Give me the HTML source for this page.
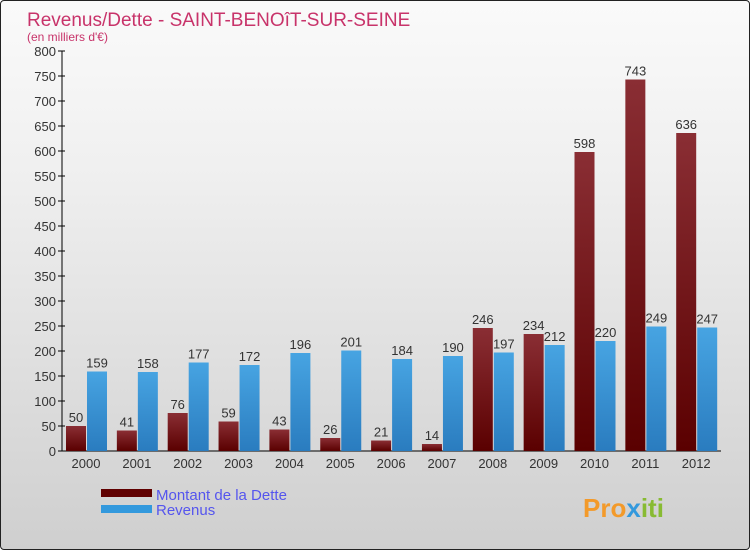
<!DOCTYPE html>
<html><head><meta charset="utf-8"><style>
body{margin:0;}
#wrap{position:relative;width:748px;height:548px;border:1px solid #222;border-radius:4px;background:linear-gradient(#fafafa,#f0f0f0 30%,#cfcfcf);overflow:hidden;font-family:"Liberation Sans",sans-serif;}
</style></head><body>
<div id="wrap">
<svg id="chart" width="748" height="548">
<defs>
<linearGradient id="gd" x1="0" y1="0" x2="0" y2="1"><stop offset="0" stop-color="#8a2e34"/><stop offset="1" stop-color="#5a0000"/></linearGradient>
<linearGradient id="gr" x1="0" y1="0" x2="0" y2="1"><stop offset="0" stop-color="#47a4e2"/><stop offset="1" stop-color="#2a7cbf"/></linearGradient>
</defs>
<text x="26" y="25" font-size="19" fill="#c8336a">Revenus/Dette - SAINT-BENOîT-SUR-SEINE</text>
<text x="26" y="40" font-size="12" fill="#c8336a">(en milliers d'€)</text>
<g id="axes"></g><g id="bars"></g>
<rect x="100" y="488" width="51" height="8" fill="#600000"/>
<rect x="100" y="504" width="51" height="8" fill="#3399dd"/>
<text x="155" y="499" font-size="15" fill="#5555ee">Montant de la Dette</text>
<text x="155" y="514" font-size="15" fill="#5555ee">Revenus</text>
<text x="582" y="516" font-size="26" font-weight="bold" fill="#f39a2a">Pro<tspan fill="#3399dd">x</tspan><tspan fill="#88bb33">iti</tspan></text>
</svg></div>
<script>
const years=["2000","2001","2002","2003","2004","2005","2006","2007","2008","2009","2010","2011","2012"];
const debt=[50,41,76,59,43,26,21,14,246,234,598,743,636];
const revenue=[159,158,177,172,196,201,184,190,197,212,220,249,247];
const yTicks=[0,50,100,150,200,250,300,350,400,450,500,550,600,650,700,750,800];
const NS="http://www.w3.org/2000/svg";
const y=v=>450-v*0.5, gx=i=>64+i*50.85;
function mk(t,a,p){const e=document.createElementNS(NS,t);for(const k in a)e.setAttribute(k,a[k]);p.appendChild(e);return e;}
const ax=document.getElementById('axes'),bs=document.getElementById('bars');
const yl=mk('line',{x1:61,y1:50,x2:61,y2:450,stroke:'#000'},ax);


const xl=mk('line',{x1:61,y1:450,x2:720,y2:450,stroke:'#000'},ax);


yTicks.forEach(v=>{
 mk('line',{x1:57,x2:64,y1:y(v),y2:y(v),stroke:'#000'},ax);
 const t=mk('text',{x:55,y:y(v)+5,'font-size':13,fill:'#333','text-anchor':'end'},ax);t.textContent=v;
 
 
});
years.forEach((yr,i)=>{
 const x=gx(i);
 const t=mk('text',{x:x+21,y:467,'font-size':13,fill:'#333','text-anchor':'middle'},ax);t.textContent=yr;
 
 
 const b1=mk('rect',{x:x+1,y:y(debt[i]),width:20,height:debt[i]*0.5,fill:'url(#gd)'},bs);
 
 
 const b2=mk('rect',{x:x+22,y:y(revenue[i]),width:20,height:revenue[i]*0.5,fill:'url(#gr)'},bs);
 
 
 const l1=mk('text',{x:x+11,y:y(debt[i])-4,'font-size':13,fill:'#333','text-anchor':'middle'},bs);l1.textContent=debt[i];
 
 
 const l2=mk('text',{x:x+32,y:y(revenue[i])-4,'font-size':13,fill:'#333','text-anchor':'middle'},bs);l2.textContent=revenue[i];
 
 
});
</script></body></html>
